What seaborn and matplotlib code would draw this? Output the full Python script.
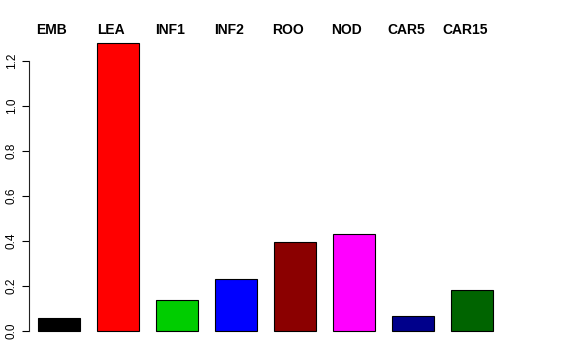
import matplotlib
matplotlib.use("Agg")
import matplotlib.pyplot as plt
import matplotlib.transforms as mtransforms
import seaborn as sns
import numpy as np

categories = ["EMB", "LEA", "INF1", "INF2", "ROO", "NOD", "CAR5", "CAR15"]
values = [0.059, 1.28, 0.138, 0.231, 0.397, 0.431, 0.068, 0.181]
colors = ["#000000", "#FF0000", "#00CD00", "#0000FF", "#8B0000", "#FF00FF", "#00008B", "#006400"]
yticks = [0.0, 0.2, 0.4, 0.6, 0.8, 1.0, 1.2]

sns.set_style("white")
plt.rcParams["font.family"] = ["Liberation Sans", "DejaVu Sans"]
plt.rcParams["text.color"] = "black"
plt.rcParams["ytick.color"] = "black"

W, H = 576, 360
fig = plt.figure(figsize=(W / 100, H / 100), dpi=100)
left, right, top, bottom = 29, 555, 31.5, 342.5
ax = fig.add_axes([left / W, 1 - bottom / H, (right - left) / W, (bottom - top) / H])

sns.barplot(x=categories, y=values, hue=categories, palette=colors, order=categories,
            hue_order=categories, width=0.712, edgecolor="black", linewidth=0.8,
            legend=False, ax=ax, saturation=1)

ax.set_xlim(-0.508, 8.41)
ax.set_ylim(-0.0512, 1.3312)
ax.set_xlabel("")
ax.set_ylabel("")
ax.set_xticks([])
ax.set_yticks(yticks)
ax.set_yticklabels([f"{v:.1f}" for v in yticks], rotation=90, va="center", fontsize=8.5, color="black")
ax.tick_params(axis="y", left=True, length=5, width=0.8, color="black", pad=3, labelcolor="black")
for s in ["top", "right", "bottom"]:
    ax.spines[s].set_visible(False)
ax.spines["left"].set_bounds(0, 1.2)
ax.spines["left"].set_color("#222222")
ax.spines["left"].set_linewidth(0.8)
ax.set_facecolor("white")

trans = mtransforms.blended_transform_factory(ax.transData, ax.transAxes)
offset = mtransforms.ScaledTranslation(-7 / 100, 0, fig.dpi_scale_trans)
for i, c in enumerate(categories):
    ax.text(i, 0.992, c, transform=trans + offset, ha="center", va="baseline",
            fontsize=10, fontweight="bold", color="black", clip_on=False)

fig.savefig("out.png", dpi=100, facecolor="white")
